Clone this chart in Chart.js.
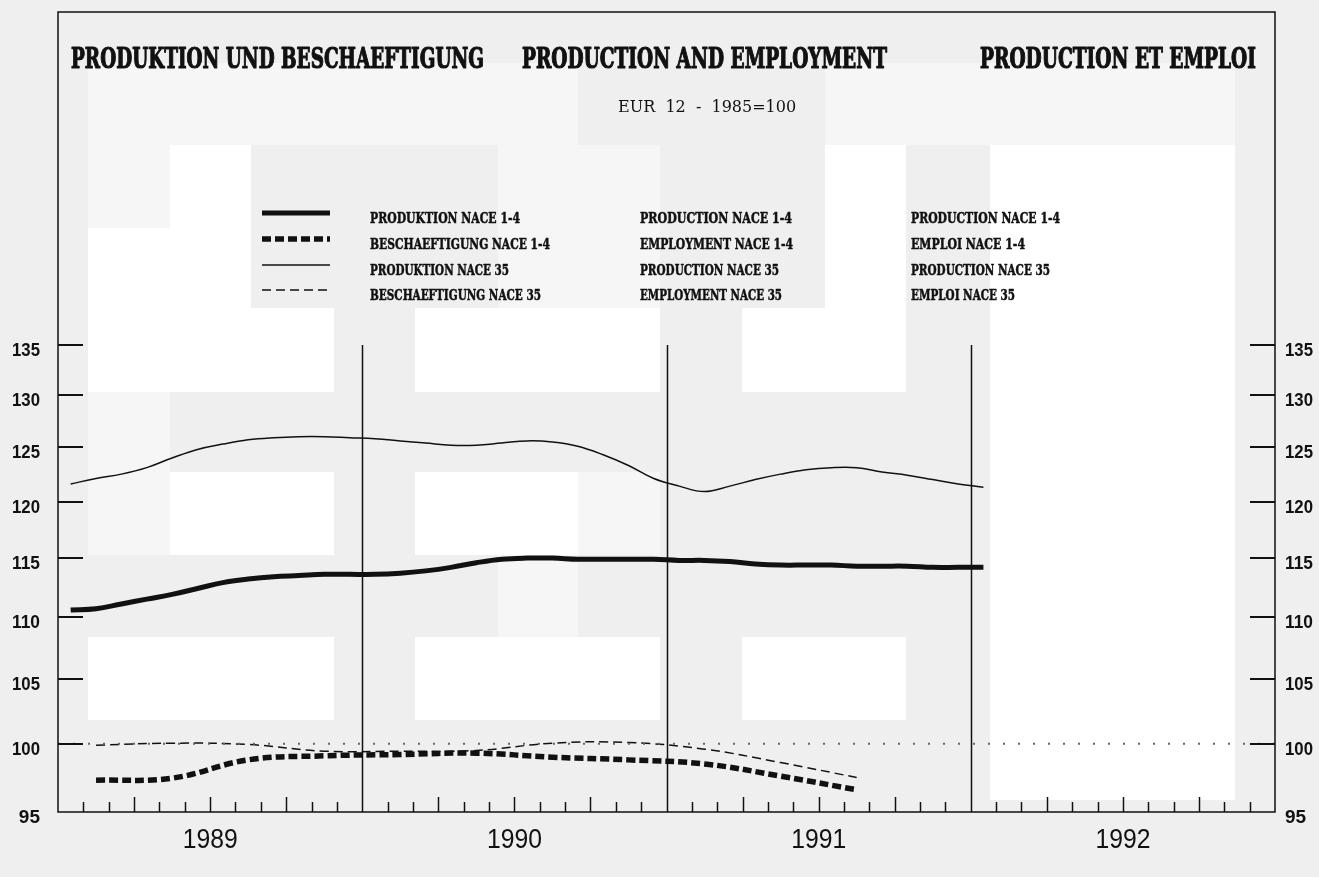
<!DOCTYPE html>
<html>
<head>
<meta charset="utf-8">
<title>Produktion und Beschaeftigung</title>
<script src="https://cdn.jsdelivr.net/npm/chart.js@4.4.1/dist/chart.umd.min.js"></script>
<style>
  html, body { margin: 0; padding: 0; background: #efefef; }
  canvas { display: block; }
</style>
</head>
<body>
<canvas id="chart" width="1319" height="877"></canvas>
<script>
/* ── Data (EUR 12, 1985 = 100) ───────────────────── */
const monthLabels = [
  '1989-01','1989-02','1989-03','1989-04','1989-05','1989-06','1989-07','1989-08','1989-09','1989-10','1989-11','1989-12',
  '1990-01','1990-02','1990-03','1990-04','1990-05','1990-06','1990-07','1990-08','1990-09','1990-10','1990-11','1990-12',
  '1991-01','1991-02','1991-03','1991-04','1991-05','1991-06','1991-07','1991-08','1991-09','1991-10','1991-11','1991-12',
  '1992-01'
];
const prodNace14 = [
  110.6, 110.7, 111.1, 111.5, 111.9, 112.4, 112.9, 113.2, 113.4, 113.5, 113.6, 113.6,
  113.6, 113.7, 113.9, 114.2, 114.6, 114.9, 115.0, 115.0, 114.9, 114.9, 114.9, 114.9,
  114.8, 114.8, 114.7, 114.5, 114.4, 114.4, 114.4, 114.3, 114.3, 114.3, 114.2, 114.2,
  114.2
];
const prodNace35 = [
  121.6, 122.1, 122.5, 123.1, 124.0, 124.8, 125.3, 125.7, 125.9, 126.0, 126.0, 125.9,
  125.8, 125.6, 125.4, 125.2, 125.2, 125.4, 125.6, 125.5, 125.1, 124.3, 123.3, 122.1,
  121.4, 120.9, 121.4, 122.0, 122.5, 122.9, 123.1, 123.1, 122.7, 122.4, 122.0, 121.6,
  121.3
];
const quarterLabels = [
  '1989-Q1','1989-Q2','1989-Q3','1989-Q4',
  '1990-Q1','1990-Q2','1990-Q3','1990-Q4',
  '1991-Q1','1991-Q2','1991-Q3'
];
const emplNace14 = [97.3, 97.45, 98.8, 99.1, 99.2, 99.3, 99.0, 98.8, 98.5, 97.6, 96.6];
const emplNace35 = [99.9, 100.05, 99.95, 99.45, 99.45, 99.5, 100.05, 100.1, 99.6, 98.6, 97.5];
const yearLabels = ['1989', '1990', '1991', '1992'];
const yTicks = [95, 100, 105, 110, 115, 120, 125, 130, 135];
const baseValue = 100;

const titles = ['PRODUKTION UND BESCHAEFTIGUNG', 'PRODUCTION AND EMPLOYMENT', 'PRODUCTION ET EMPLOI'];
const subtitle = 'EUR  12  -  1985=100';
const legendDE = ['PRODUKTION NACE 1-4', 'BESCHAEFTIGUNG NACE 1-4', 'PRODUKTION NACE 35', 'BESCHAEFTIGUNG NACE 35'];
const legendEN = ['PRODUCTION NACE 1-4', 'EMPLOYMENT NACE 1-4', 'PRODUCTION NACE 35', 'EMPLOYMENT NACE 35'];
const legendFR = ['PRODUCTION NACE 1-4', 'EMPLOI NACE 1-4', 'PRODUCTION NACE 35', 'EMPLOI NACE 35'];

/* ── Helpers: label -> month position ────────────── */
function monthPos(label) {
  const [y, m] = label.split('-').map(Number);
  return (y - 1989) * 12 + m - 0.5;
}
function quarterPos(label) {
  const y = +label.slice(0, 4), q = +label.slice(6);
  return (y - 1989) * 12 + (q - 1) * 3 + 1.5;
}
const yearStart = y => (+y - 1989) * 12;

/* ── Scan-like paper blocks (decoration) ─────────── */
const LIGHT = '#f6f6f6', WHITE = '#ffffff';
const blocks = [
  [88, 578, 63, 145, LIGHT], [825, 1235, 63, 145, LIGHT],
  [88, 170, 145, 228, LIGHT], [498, 660, 145, 308, LIGHT],
  [170, 251, 145, 308, WHITE], [88, 170, 228, 308, WHITE],
  [825, 906, 145, 308, WHITE], [990, 1235, 145, 800, WHITE],
  [88, 334, 308, 392, WHITE], [415, 660, 308, 392, WHITE], [742, 906, 308, 392, WHITE],
  [88, 170, 392, 555, LIGHT], [578, 660, 472, 555, LIGHT], [498, 578, 555, 637, LIGHT],
  [170, 334, 472, 555, WHITE], [415, 578, 472, 555, WHITE],
  [88, 334, 637, 720, WHITE], [415, 660, 637, 720, WHITE], [742, 906, 637, 720, WHITE]
];

const FRAME_TOP = 12;
const INK = '#111';
const SERIF = '"DejaVu Serif", "Liberation Serif", serif';

/* ── Line styles (legend order) ──────────────────── */
const styles = [
  { width: 5,   dash: [] },
  { width: 5.5, dash: [9, 4] },
  { width: 1.5, dash: [] },
  { width: 1.5, dash: [9, 5] }
];

// heavy "scanned" text: fill plus a thin stroke
function heavyText(ctx, text, x, y, maxW, stroke) {
  ctx.fillText(text, x, y, maxW);
  ctx.lineWidth = stroke;
  ctx.strokeText(text, x, y, maxW);
}

const paper = {
  id: 'paper',
  beforeDraw(chart) {
    const ctx = chart.ctx;
    ctx.save();
    ctx.fillStyle = '#efefef';
    ctx.fillRect(0, 0, chart.width, chart.height);
    blocks.forEach(([x0, x1, y0, y1, c]) => {
      ctx.fillStyle = c;
      ctx.fillRect(x0, y0, x1 - x0, y1 - y0);
    });
    ctx.restore();
  },
  beforeDatasetsDraw(chart) {
    const { ctx, chartArea: a, scales: { x } } = chart;
    ctx.save();
    ctx.strokeStyle = INK;
    ctx.lineWidth = 1.5;
    yearLabels.slice(1).forEach(y => {
      const px = Math.round(x.getPixelForValue(yearStart(y))) + 0.5;
      ctx.beginPath(); ctx.moveTo(px, a.top); ctx.lineTo(px, a.bottom); ctx.stroke();
    });
    ctx.restore();
  },
  afterDraw(chart) {
    const { ctx, chartArea: a, scales: { x, y } } = chart;
    ctx.save();
    ctx.strokeStyle = INK;
    ctx.fillStyle = INK;

    // frame
    ctx.lineWidth = 1.5;
    ctx.strokeRect(a.left, FRAME_TOP, a.right - a.left, a.bottom - FRAME_TOP);

    // month ticks on bottom axis
    for (let m = 1; m < 48; m++) {
      if (m % 12 === 0) continue;
      const px = Math.round(x.getPixelForValue(m)) + 0.5;
      const len = m % 3 === 0 ? 15 : 10;
      ctx.beginPath(); ctx.moveTo(px, a.bottom); ctx.lineTo(px, a.bottom - len); ctx.stroke();
    }

    // y ticks (both sides) and labels
    ctx.lineWidth = 2;
    ctx.font = 'bold 19px "Liberation Sans", Arial, sans-serif';
    ctx.textBaseline = 'alphabetic';
    yTicks.forEach(v => {
      const py = Math.round(y.getPixelForValue(v));
      if (v !== yTicks[0]) {
        ctx.beginPath(); ctx.moveTo(a.left, py); ctx.lineTo(a.left + 25, py); ctx.stroke();
        ctx.beginPath(); ctx.moveTo(a.right - 25, py); ctx.lineTo(a.right, py); ctx.stroke();
      }
      ctx.textAlign = 'right';
      ctx.fillText(String(v), a.left - 18, py + 11, 28);
      ctx.textAlign = 'left';
      ctx.fillText(String(v), a.right + 10, py + 11, 28);
    });

    // year labels
    ctx.font = '28px "Liberation Sans", Arial, sans-serif';
    ctx.textAlign = 'center';
    yearLabels.forEach(yl => {
      ctx.fillText(yl, x.getPixelForValue(yearStart(yl) + 6), 848, 55);
    });

    // titles
    ctx.textAlign = 'left';
    ctx.lineJoin = 'round';
    ctx.font = 'bold 27px ' + SERIF;
    heavyText(ctx, titles[0], 71, 68, 413, 1.2);
    heavyText(ctx, titles[1], 522, 68, 365, 1.2);
    heavyText(ctx, titles[2], 980, 68, 276, 1.2);

    ctx.font = '16px ' + SERIF;
    ctx.fillText(subtitle, 618, 112, 179);

    // legend
    const rowY = [213, 239, 265, 290];
    styles.forEach((s, i) => {
      ctx.lineWidth = s.width;
      ctx.setLineDash(s.dash);
      ctx.lineCap = 'butt';
      ctx.beginPath(); ctx.moveTo(262, rowY[i]); ctx.lineTo(330, rowY[i]); ctx.stroke();
    });
    ctx.setLineDash([]);
    ctx.font = 'bold 14px ' + SERIF;
    const w = [[150, 180, 139, 171], [152, 153, 139, 142], [149, 114, 139, 104]];
    [legendDE, legendEN, legendFR].forEach((col, c) => {
      const lx = [370, 640, 911][c];
      col.forEach((t, i) => heavyText(ctx, t, lx, rowY[i] + 10, w[c][i], 0.5));
    });
    ctx.restore();
  }
};

function lineSet(label, data, style) {
  return {
    label, data,
    borderColor: INK,
    borderWidth: style.width,
    borderDash: style.dash,
    tension: 0.4,
    pointRadius: 0,
    fill: false
  };
}

new Chart(document.getElementById('chart'), {
  type: 'line',
  data: {
    datasets: [
      {
        label: 'baseline',
        data: [{ x: 0, y: baseValue }, { x: 48, y: baseValue }],
        borderColor: '#666',
        borderWidth: 2,
        borderDash: [2, 13],
        pointRadius: 0,
        tension: 0
      },
      lineSet(legendDE[2], monthLabels.map((l, i) => ({ x: monthPos(l), y: prodNace35[i] })), styles[2]),
      lineSet(legendDE[0], monthLabels.map((l, i) => ({ x: monthPos(l), y: prodNace14[i] })), styles[0]),
      lineSet(legendDE[3], quarterLabels.map((l, i) => ({ x: quarterPos(l), y: emplNace35[i] })), styles[3]),
      lineSet(legendDE[1], quarterLabels.map((l, i) => ({ x: quarterPos(l), y: emplNace14[i] })), styles[1])
    ]
  },
  options: {
    responsive: false,
    devicePixelRatio: 1,
    animation: false,
    layout: { padding: { top: 345, right: 44, left: 0, bottom: 0 } },
    plugins: { legend: { display: false }, tooltip: { enabled: false } },
    scales: {
      x: {
        type: 'linear', min: 0, max: 48,
        ticks: { display: false },
        grid: { display: false },
        border: { display: false },
        afterFit: s => { s.height = 65; }
      },
      y: {
        type: 'logarithmic', min: 95, max: 135,
        ticks: { display: false },
        grid: { display: false },
        border: { display: false },
        afterFit: s => { s.width = 58; }
      }
    }
  },
  plugins: [paper]
});
</script>
</body>
</html>
